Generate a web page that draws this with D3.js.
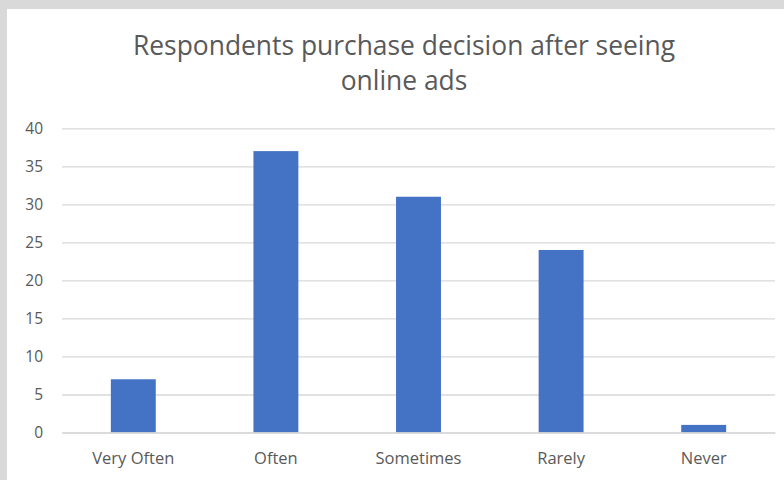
<!DOCTYPE html>
<html>
<head>
<meta charset="utf-8">
<script src="https://cdn.jsdelivr.net/npm/d3@7"></script>
<style>
  html, body { margin: 0; padding: 0; background: #fff; }
  svg { display: block; }
</style>
</head>
<body>
<svg id="chart" width="784" height="480"></svg>
<script>
// Survey answers: how often respondents buy after seeing online ads
const categories = ["Very Often", "Often", "Sometimes", "Rarely", "Never"];
const counts = [7, 37, 31, 24, 1];
const yTicks = [0, 5, 10, 15, 20, 25, 30, 35, 40];
const titleLines = ["Respondents purchase decision after seeing", "online ads"];

const W = 784, H = 480;
const plot = { left: 62, right: 775, top: 128.3, bottom: 432.5 };
const font = "'Open Sans', 'Noto Sans', sans-serif";

const svg = d3.select("#chart");

// page backdrop with the white chart card on top
svg.append("rect").attr("width", W).attr("height", H).attr("fill", "#d9d9d9");
svg.append("rect").attr("x", 7).attr("y", 9).attr("width", W - 7).attr("height", H - 9)
  .attr("fill", "#ffffff");

const x = d3.scaleBand().domain(categories).range([plot.left, plot.right]).paddingInner(0.685).paddingOuter(0.3425);
const y = d3.scaleLinear().domain([0, 40]).range([plot.bottom, plot.top]);

// horizontal gridlines and y labels
const yAxis = d3.axisLeft(y).tickValues(yTicks).tickSize(-(plot.right - plot.left)).tickPadding(19);
const gy = svg.append("g").attr("transform", `translate(${plot.left},0)`).call(yAxis);
gy.select(".domain").remove();
gy.selectAll(".tick line").attr("stroke", "#d9d9d9").attr("stroke-width", 1.3);
gy.selectAll(".tick text").attr("fill", "#595959").attr("font-family", font).attr("font-size", 15.5);

// bars
svg.append("g").selectAll("rect").data(categories).join("rect")
  .attr("x", d => x(d))
  .attr("width", x.bandwidth())
  .attr("y", (d, i) => y(counts[i]))
  .attr("height", (d, i) => y(0) - y(counts[i]))
  .attr("fill", "#4472c4");

// category axis
const xAxis = d3.axisBottom(x).tickSize(0).tickPadding(20);
const gx = svg.append("g").attr("transform", `translate(0,${plot.bottom})`).call(xAxis);
gx.select(".domain").attr("stroke", "#d9d9d9").attr("stroke-width", 1.3);
gx.selectAll(".tick text").attr("fill", "#595959").attr("font-family", font).attr("font-size", 16.5);

// title
svg.append("g").selectAll("text").data(titleLines).join("text")
  .attr("x", 404)
  .attr("y", (d, i) => 55 + i * 35)
  .attr("text-anchor", "middle")
  .attr("fill", "#595959")
  .attr("font-family", font)
  .attr("font-size", 26.4)
  .text(d => d);
</script>
</body>
</html>
